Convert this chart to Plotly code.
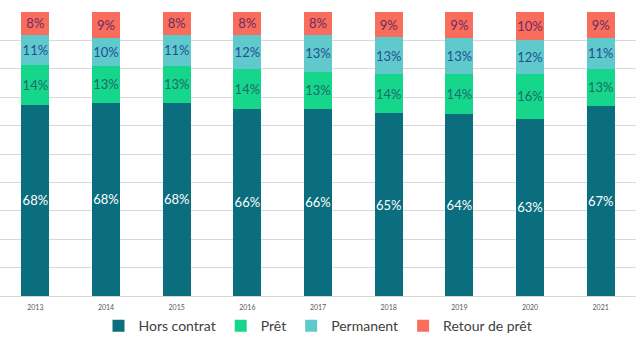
import plotly.graph_objects as go

years = ["2013", "2014", "2015", "2016", "2017", "2018", "2019", "2020", "2021"]
hors_contrat = [68, 68, 68, 66, 66, 65, 64, 63, 67]
pret = [14, 13, 13, 14, 13, 14, 14, 16, 13]
permanent = [11, 10, 11, 12, 13, 13, 13, 12, 11]
retour = [8, 9, 8, 8, 8, 9, 9, 10, 9]

series = [
    ("Hors contrat", hors_contrat, "#0a6e7f", "#ffffff"),
    ("Prêt", pret, "#16d68b", "#1d6a6c"),
    ("Permanent", permanent, "#5fc9cc", "#244f93"),
    ("Retour de prêt", retour, "#f86d5c", "#6e2b5d"),
]

fig = go.Figure()
for name, vals, color, tcol in series:
    fig.add_trace(go.Bar(
        x=years, y=vals, name=name,
        marker=dict(color=color, line=dict(width=0)),
        text=[f"{v}%" for v in vals],
        textposition="inside", insidetextanchor="middle", textangle=0,
        constraintext="none",
        textfont=dict(color=tcol, size=13, family="Lato"),
        hoverinfo="skip",
    ))

fig.update_layout(
    barmode="stack", barnorm="percent", bargap=0.6,
    width=640, height=343,
    margin=dict(l=0, r=4, t=12, b=47, autoexpand=False),
    paper_bgcolor="white", plot_bgcolor="white",
    font=dict(family="Lato", color="#404040"),
    xaxis=dict(showgrid=False, showline=True, linecolor="#d9d9d9", linewidth=1,
               ticks="outside", ticklen=5, tickcolor="rgba(0,0,0,0)",
               tickfont=dict(size=7, color="#595959"), fixedrange=True,
               automargin=False),
    yaxis=dict(range=[0, 100], dtick=10, showgrid=True, gridcolor="#d9d9d9",
               gridwidth=1, showticklabels=False, zeroline=False, fixedrange=True,
               automargin=False),
    legend=dict(orientation="h", x=0.5, xanchor="center", y=-0.106, yanchor="middle",
                font=dict(size=14, color="#404040", family="Lato"),
                traceorder="normal", itemwidth=30),
    showlegend=True,
)

fig.write_html("out.html")
